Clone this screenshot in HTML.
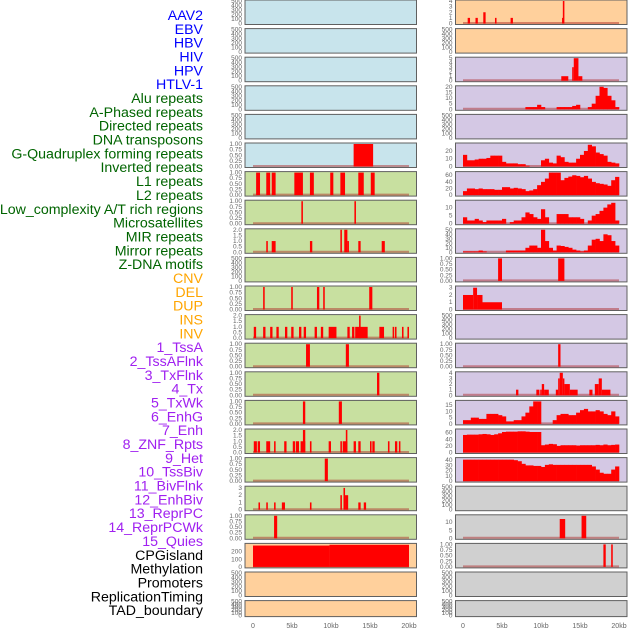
<!DOCTYPE html>
<html><head><meta charset="utf-8"><style>
html,body{margin:0;padding:0;background:#fff;width:630px;height:630px;overflow:hidden}
svg text{font-family:"Liberation Sans",sans-serif}
</style></head><body>
<svg id="c" width="630" height="630" xmlns="http://www.w3.org/2000/svg"></svg>
<script>
const labels=["AAV2","EBV","HBV","HIV","HPV","HTLV-1","Alu repeats","A-Phased repeats","Directed repeats","DNA transposons","G-Quadruplex forming repeats","Inverted repeats","L1 repeats","L2 repeats","Low_complexity A/T rich regions","Microsatellites","MIR repeats","Mirror repeats","Z-DNA motifs","CNV","DEL","DUP","INS","INV","1_TssA","2_TssAFlnk","3_TxFlnk","4_Tx","5_TxWk","6_EnhG","7_Enh","8_ZNF_Rpts","9_Het","10_TssBiv","11_BivFlnk","12_EnhBiv","13_ReprPC","14_ReprPCWk","15_Quies","CPGisland","Methylation","Promoters","ReplicationTiming","TAD_boundary"];
const labelGroups=[6,13,5,15,5];
const groupColors=["#0000ff","#006400","#ffa500","#a020f0","#000000"];
const xTicks=[0,5,10,15,20];
const xTickLabels=["0","5kb","10kb","15kb","20kb"];
const tEmpty=[0,100,200,300,400,500];
const t01=[0,0.25,0.5,0.75,1];
const t02=[0,0.5,1,1.5,2];
// left column bars [startKb,endKb,value]
const barsL5=[[12.9,15.4,1]];
const barsL6=[[0.4,0.9,1],[1.7,2.2,1],[2.4,2.9,1],[5.3,6.4,1],[7.3,7.8,1],[9.9,10.3,1],[11.2,11.8,1],[13.5,14.2,1],[15.1,15.6,1]];
const barsL7=[[6.2,6.4,1],[13.0,13.2,1]];
const barsL8=[[1.7,1.9,1],[2.4,2.9,1],[7.3,7.6,1],[11.2,11.4,2],[11.7,12.1,2],[12.1,12.3,1],[13.5,13.8,1],[16.5,16.9,1]];
const barsL10=[[1.3,1.5,1],[4.9,5.1,1],[8.2,8.5,1],[9.0,9.2,1],[14.9,15.3,1]];
const barsL11=[[0.1,0.4,1],[1.3,1.6,1],[2.2,2.5,1],[3.0,3.3,1],[4.1,4.4,1],[4.9,5.2,1],[5.9,6.2,1],[6.5,6.8,1],[7.9,8.2,1],[8.7,9.0,1],[9.7,10.7,1],[12.1,12.4,1],[12.7,13.0,1],[13.1,14.7,1],[13.6,13.8,2],[16.2,16.8,1],[17.9,18.1,1],[18.2,18.4,1],[19.1,19.3,1],[19.8,20.0,1]];
const barsL12=[[6.8,7.3,1],[11.9,12.3,1]];
const barsL13=[[15.9,16.2,1]];
const barsL14=[[6.4,6.7,1],[11.0,11.4,1]];
const barsL15=[[0.1,0.5,1],[0.6,0.9,1],[1.7,2.2,1],[2.7,2.9,1],[4.0,4.3,1],[5.1,5.4,1],[5.5,5.9,1],[6.1,6.7,1],[6.4,6.7,2],[7.3,7.5,1],[9.7,10.0,1],[11.2,11.4,1],[11.5,12.1,1],[11.9,12.1,2],[12.9,13.2,1],[13.5,13.8,1],[15.0,15.2,1],[15.3,15.6,1],[17.3,17.5,1],[18.2,18.5,1],[18.7,18.9,1]];
const barsL16=[[9.2,9.6,1]];
const barsL17=[[0.7,0.9,1],[1.7,1.9,1],[2.7,2.9,1],[3.7,4.1,1],[7.3,7.5,1],[11.2,11.4,2],[11.6,11.8,3],[11.8,12.2,2],[13.5,13.8,1],[14.2,14.5,1]];
const barsL18=[[2.7,3.1,1]];
const barsL19=[[0,9.8,280],[9.8,20,290]];
// right column bars
const barsR0=[[0.6,0.9,1],[1.6,1.9,1],[2.6,2.9,2],[4.1,4.3,1],[6.1,6.4,1],[12.7,12.8,1],[12.8,13.0,4]];
const barsR2=[[12.6,13.5,1],[14.0,14.2,3],[14.2,14.8,5],[14.8,15.3,1]];
const barsR9=[[4.5,5.0,1],[12.2,13.0,1]];
const barsR10=[[0,1.3,2],[1.3,1.8,3],[1.8,2.5,2],[2.5,5.0,1]];
const barsR12=[[12.2,12.5,1]];
const barsR13=[[6.8,7.1,1],[9.4,9.8,1],[9.9,10.1,1],[10.1,10.4,2],[10.4,11.0,1],[11.9,12.2,1],[12.2,12.4,3],[12.4,12.8,4],[12.8,13.0,3],[13.0,13.7,2],[13.7,14.7,1],[16.2,16.6,1],[16.9,17.4,2],[17.4,17.8,3],[17.8,18.9,1]];
const barsR18=[[12.4,13.1,12],[15.2,15.8,14]];
const barsR19=[[18.0,18.3,1],[19.0,19.2,1]];
// right column 0.5kb bin values (40 bins, 0-20kb)
const binsR3=[0,0,0,0,0,0,0,0,0,0,0,0,0,0,0,0,2,2,2,4,2,0,0,0,2,2,2,2,3,4,0,0,2,5,12,20,19,12,8,2];
const binsR5=[15,8,8,9,10,10,11,14,14,14,6,4,4,4,3,3,1,0,0,0,8,10,5,4,14,12,6,5,5,10,15,20,28,26,18,16,14,6,5,4];
const binsR6=[12,20,20,18,20,18,18,18,16,16,24,24,20,22,20,18,12,14,18,30,40,50,68,68,68,45,52,56,60,58,54,58,50,40,36,34,32,28,45,55];
const binsR7=[4,2,2,3,2,1,2,2,2,2,3,0,1,2,2,4,7,6,4,3,9,4,0,0,6,6,6,4,4,4,3,0,2,5,6,8,10,12,13,2];
const binsR8=[2,2,2,2,4,2,0,0,0,0,0,4,4,4,4,4,10,15,15,10,50,25,10,4,15,14,12,10,6,4,2,4,15,28,30,25,40,38,25,15];
const binsR14=[3,3,5,5,4,4,8,8,8,7,6,2,2,3,3,6,9,14,18,18,0,0,0,3,7,8,8,7,7,9,11,12,10,10,11,10,8,7,10,6];
const binsR15=[53,54,54,54,55,56,55,53,55,58,62,63,63,63,64,64,63,62,62,62,22,24,26,25,20,22,22,22,22,21,22,22,22,22,23,22,24,22,23,24];
const binsR16=[41,41,41,41,41,41,41,41,41,41,41,41,41,40,38,33,30,30,29,29,27,31,32,31,31,31,31,31,31,31,31,31,31,28,22,16,14,14,22,28];

const colL=["#c8e4ec","#c8e4ec","#c8e4ec","#c8e4ec","#c8e4ec","#c8e4ec","#c8e0a0","#c8e0a0","#c8e0a0","#c8e0a0","#c8e0a0","#c8e0a0","#c8e0a0","#c8e0a0","#c8e0a0","#c8e0a0","#c8e0a0","#c8e0a0","#c8e0a0","#ffd09c","#ffd09c","#ffd09c"];
const colR=["#ffd09c","#ffd09c","#d4c8e4","#d4c8e4","#d4c8e4","#d4c8e4","#d4c8e4","#d4c8e4","#d4c8e4","#d4c8e4","#d4c8e4","#d4c8e4","#d4c8e4","#d4c8e4","#d4c8e4","#d4c8e4","#d4c8e4","#d0d0d0","#d0d0d0","#d0d0d0","#d0d0d0","#d0d0d0"];
const L=[[tEmpty],[tEmpty],[tEmpty],[tEmpty],[tEmpty],[t01,1,barsL5],[t01,1,barsL6],[t01,1,barsL7],[t02,2,barsL8],[tEmpty],[t01,1,barsL10],[t02,2,barsL11],[t01,1,barsL12],[t01,1,barsL13],[t01,1,barsL14],[t02,2,barsL15],[t01,1,barsL16],[[0,1,2,3],3.1,barsL17],[t01,1,barsL18],[[0,100,200],295,barsL19],[tEmpty],[tEmpty]];
const R=[[[0,1,2,3,4],4,barsR0],[tEmpty],[[0,1,2,3,4,5],5,barsR2],[[0,5,10,15,20],20,null,binsR3],[tEmpty],[[0,10,20],29,null,binsR5],[[0,20,40,60],68,null,binsR6],[[0,5,10],14,null,binsR7],[[0,10,20,30,40,50],50,null,binsR8],[t01,1,barsR9],[[0,1,2,3],3.1,barsR10],[tEmpty],[t01,1,barsR12],[[0,1,2,3,4],4,barsR13],[[0,5,10,15],18,null,binsR14],[[0,20,40,60],68,null,binsR15],[[0,10,20,30,40],43,null,binsR16],[tEmpty],[[0,5,10],14,barsR18],[t01,1,barsR19],[tEmpty],[tEmpty]];

const svg=document.getElementById('c');
const NS="http://www.w3.org/2000/svg";
function mk(tag,attrs,parent){const e=document.createElementNS(NS,tag);for(const k in attrs)e.setAttribute(k,attrs[k]);(parent||svg).appendChild(e);return e;}
function fmt(v,ticks){if(ticks===t01)return v.toFixed(2);if(ticks===t02)return v.toFixed(1);return String(v);}

let li=0;
labelGroups.forEach((n,g)=>{for(let k=0;k<n;k++){const t=mk('text',{x:203,y:15+13.84*li+5,'text-anchor':'end','font-size':'14.2',fill:groupColors[g]});


t.textContent=labels[li];li++;}});

function panel(spec,i,x0,dx0,fill,side){
  const top=i<21?i*28.6:600.6, h=i<21?24.5:16, w=171.5;
  const g=mk('g',{});
  
  
  mk('rect',{x:x0,y:top,width:w,height:h,fill:fill,stroke:'#606060','stroke-width':1},g);
  const ticks=spec[0], max=spec[1]||ticks[ticks.length-1];
  const y0=top+h-1, yr=h-2;
  const ys=v=>y0-v/max*yr;
  const xs=kb=>dx0+kb*7.8;
  ticks.forEach(v=>{const t=mk('text',{x:x0-3,y:ys(v)+2,'text-anchor':'end','font-size':'6.5',fill:'#666'},g);
    
    
    t.textContent=fmt(v,ticks);});
  if(spec[2]||spec[3]){
    const bl=mk('line',{x1:xs(0),x2:xs(20),y1:y0-0.5,y2:y0-0.5,stroke:'rgba(170,30,30,0.45)','stroke-width':2},g);
    
    
  }
  if(spec[2])spec[2].forEach(b=>{const r=mk('rect',{x:xs(b[0]),y:ys(b[2]),width:Math.max(1.5,xs(b[1])-xs(b[0])),height:y0-ys(b[2]),fill:'#ff0000'},g);
    
    });
  if(spec[3])spec[3].forEach((v,k)=>{if(v<=0)return;const r=mk('rect',{x:xs(k*0.5),y:ys(v),width:xs(0.5)-xs(0)+0.3,height:y0-ys(v),fill:'#ff0000'},g);
    
    });
}
L.forEach((s,i)=>panel(s,i,245,253,colL[i],'left'));
R.forEach((s,i)=>panel(s,i,455.5,463,colR[i],'right'));
[253,463].forEach(d=>xTicks.forEach((v,k)=>{const t=mk('text',{x:d+v*7.8,y:628,'text-anchor':'middle','font-size':'7',fill:'#666'});
  
  
  t.textContent=xTickLabels[k];}));
</script>
</body></html>
